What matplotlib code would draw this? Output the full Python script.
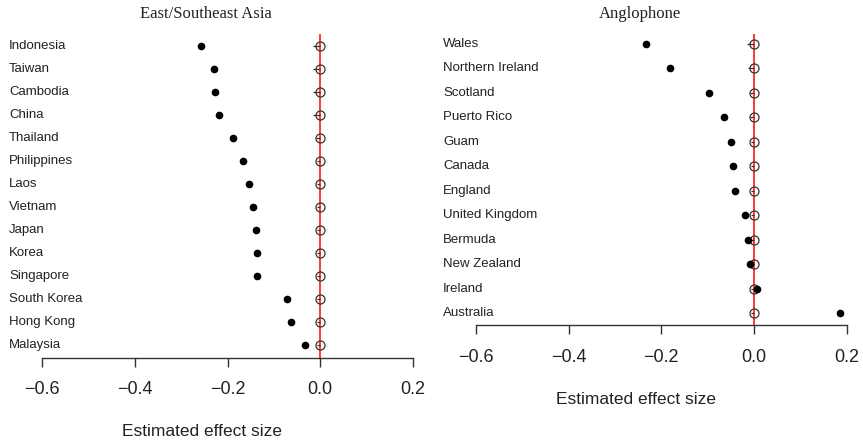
import matplotlib.pyplot as plt
import matplotlib.transforms as mtransforms

# East/Southeast Asia panel
asia_countries = ['Indonesia', 'Taiwan', 'Cambodia', 'China', 'Thailand', 'Philippines',
                  'Laos', 'Vietnam', 'Japan', 'Korea', 'Singapore', 'South Korea',
                  'Hong Kong', 'Malaysia']
asia_effect = [-0.257, -0.229, -0.227, -0.218, -0.189, -0.166, -0.153, -0.145,
               -0.138, -0.137, -0.136, -0.071, -0.064, -0.033]
asia_null_lo = [-0.016, -0.016, -0.015, -0.016, -0.010, -0.008, -0.008, -0.008,
                -0.007, -0.007, -0.007, -0.007, -0.007, -0.007]

# Anglophone panel
anglo_countries = ['Wales', 'Northern Ireland', 'Scotland', 'Puerto Rico', 'Guam', 'Canada',
                   'England', 'United Kingdom', 'Bermuda', 'New Zealand', 'Ireland', 'Australia']
anglo_effect = [-0.233, -0.181, -0.097, -0.065, -0.050, -0.046, -0.042, -0.019,
                -0.014, -0.009, 0.007, 0.186]
anglo_null_lo = [-0.015, -0.013, -0.008, -0.008, -0.007, -0.007, -0.007, -0.007,
                 -0.007, -0.007, -0.007, -0.007]

xticks = [-0.6, -0.4, -0.2, 0.0, 0.2]

W, H = 863, 442
fig = plt.figure(figsize=(W / 100, H / 100), dpi=100)
plt.rcParams['font.family'] = ['Liberation Sans', 'DejaVu Sans']


def px_axes(x0, x1, ytop, ybot):
    return fig.add_axes([x0 / W, (H - ybot) / H, (x1 - x0) / W, (ybot - ytop) / H])


def panel(ax, countries, effect, null_lo, label_x, ylim):
    n = len(countries)
    ys = [n - 1 - i for i in range(n)]
    ax.set_xlim(-0.6, 0.2)
    ax.set_ylim(*ylim)
    ax.axvline(0, color='#ff2a2a', lw=1.3, zorder=1)
    zeros = [0.0] * n
    lo = [-v for v in null_lo]
    ax.errorbar(zeros, ys, xerr=[lo, [0] * n], fmt='none', ecolor='#333333',
                elinewidth=0.9, capsize=0, zorder=2)
    ax.plot(zeros, ys, 'o', mfc='none', mec='#333333', mew=0.9, ms=6.5, zorder=3)
    ax.plot(effect, ys, 'o', color='black', ms=4.5, zorder=4)
    for sp in ['top', 'right', 'left']:
        ax.spines[sp].set_visible(False)
    ax.spines['bottom'].set_color('#333333')
    ax.spines['bottom'].set_linewidth(1.0)
    ax.set_yticks([])
    ax.set_xticks(xticks)
    ax.set_xticklabels(['\u22120.6', '\u22120.4', '\u22120.2', '0.0', '0.2'])
    ax.tick_params(axis='x', length=6.5, width=1.0, color='#333333', pad=10.5,
                   labelsize=13, labelcolor='#222222')
    tr = mtransforms.blended_transform_factory(fig.transFigure, ax.transData)
    for name, y in zip(countries, ys):
        ax.text(label_x / W, y, name, transform=tr, ha='left', va='center',
                fontsize=9.5, color='#222222')


ax1 = px_axes(42, 413, 34, 357.7)
panel(ax1, asia_countries, asia_effect, asia_null_lo, 9, (-0.55, 13.52))
ax2 = px_axes(476, 846.7, 34, 325.3)
panel(ax2, anglo_countries, anglo_effect, anglo_null_lo, 443, (-0.503, 11.41))

fig.text(205.5 / W, 1 - 14 / H, 'East/Southeast Asia', ha='center', va='center',
         fontsize=12, family='Liberation Serif', color='#222222')
fig.text(639.5 / W, 1 - 14 / H, 'Anglophone', ha='center', va='center',
         fontsize=12, family='Liberation Serif', color='#222222')
fig.text(201.7 / W, 1 - 431.7 / H, 'Estimated effect size', ha='center', va='center',
         fontsize=12.5, color='#222222')
fig.text(636 / W, 1 - 400 / H, 'Estimated effect size', ha='center', va='center',
         fontsize=12.5, color='#222222')

fig.savefig('out.png', dpi=100)
